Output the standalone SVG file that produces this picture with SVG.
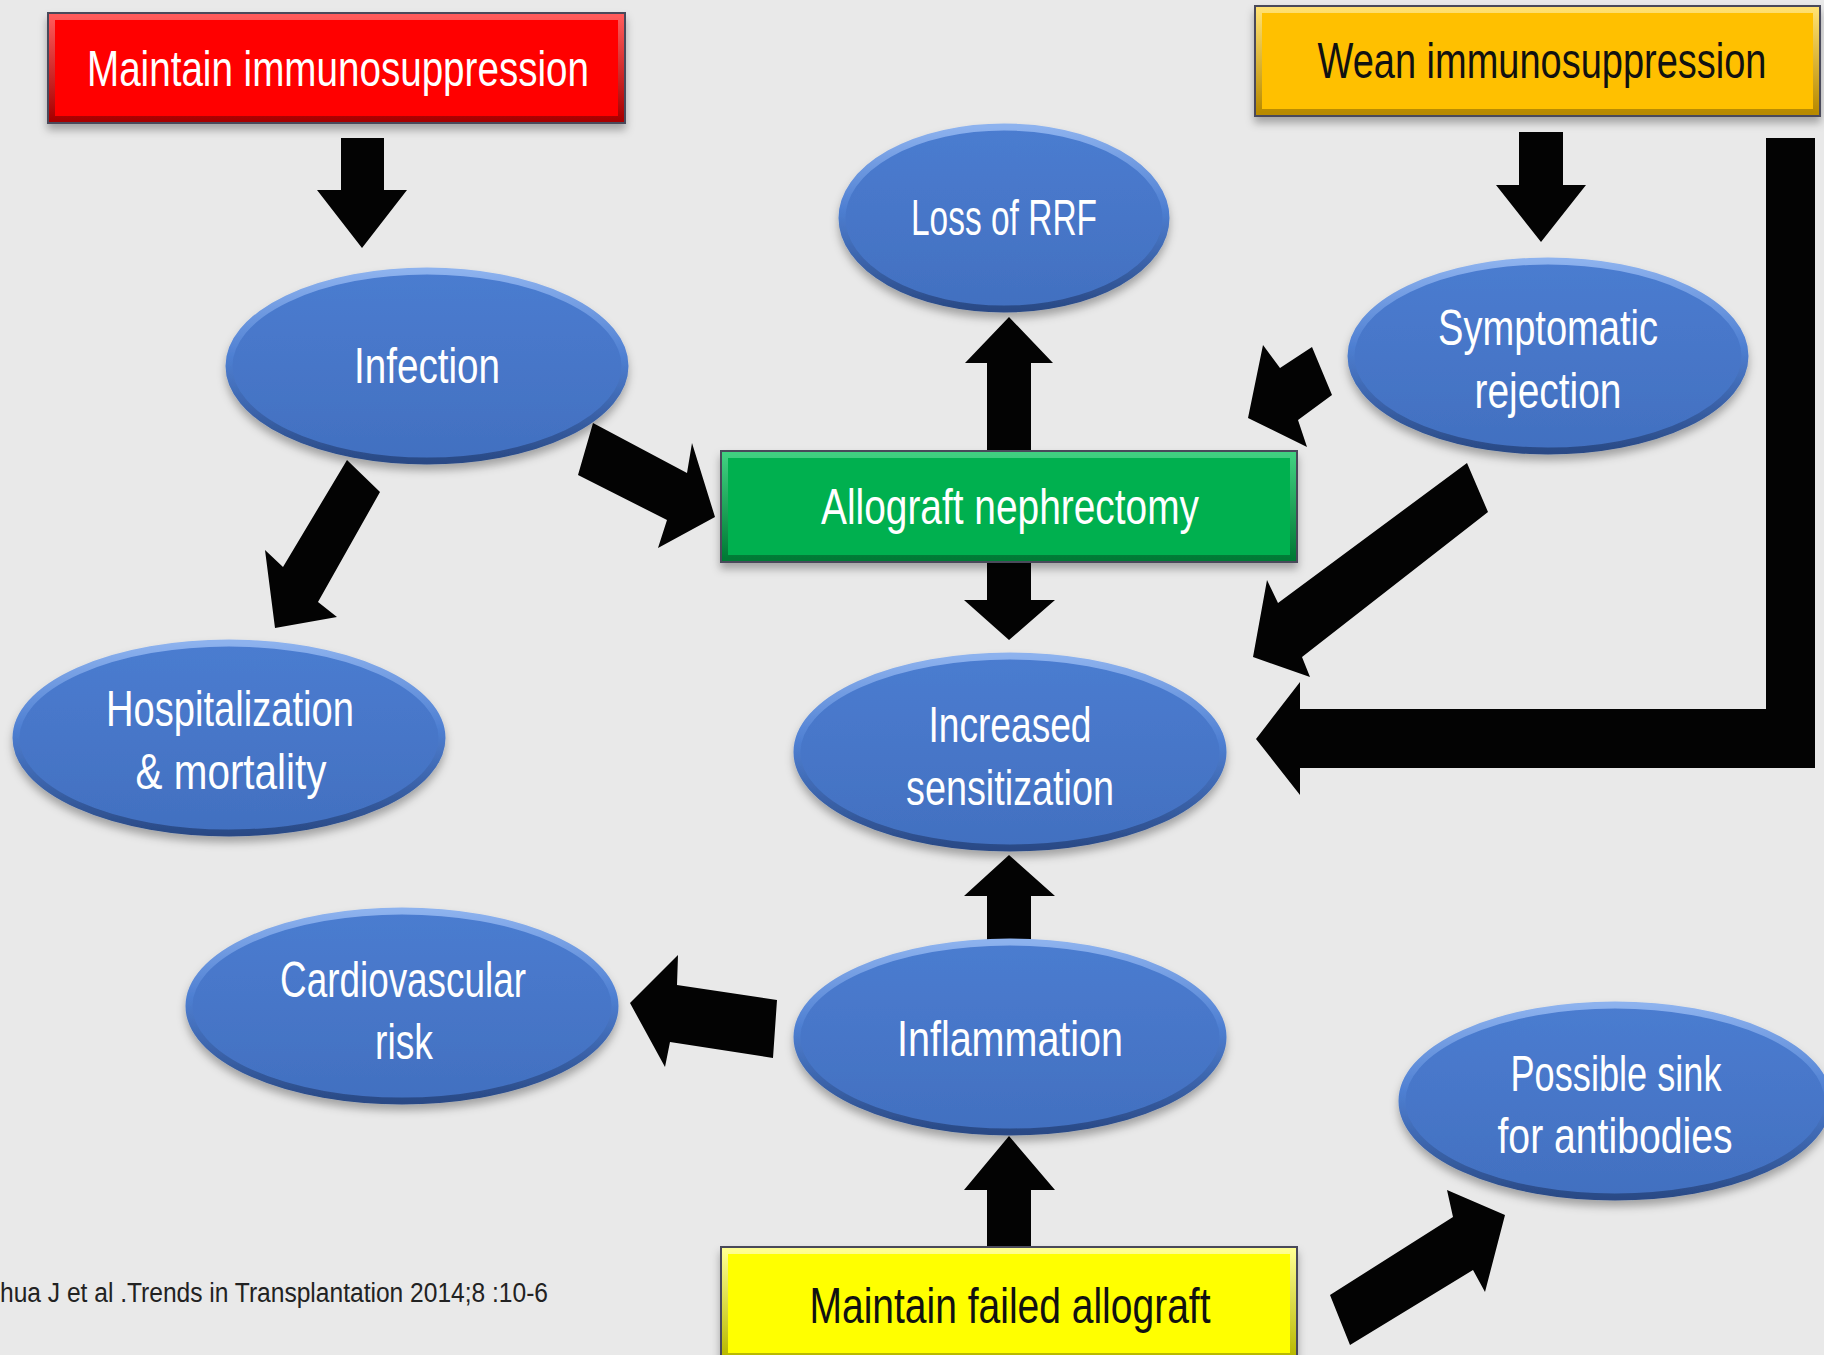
<svg xmlns="http://www.w3.org/2000/svg" width="1824" height="1355" viewBox="0 0 1824 1355">
<defs>
<linearGradient id="ellStroke" x1="0" y1="0" x2="0" y2="1">
<stop offset="0" stop-color="#8DB2EE"/>
<stop offset="0.45" stop-color="#4E7FD2"/>
<stop offset="1" stop-color="#2A4A86"/>
</linearGradient>
<linearGradient id="ellFill" x1="0" y1="0" x2="0" y2="1">
<stop offset="0" stop-color="#4B7CD0"/>
<stop offset="1" stop-color="#4270C0"/>
</linearGradient>
<linearGradient id="redBevel" x1="0" y1="0" x2="0" y2="1">
<stop offset="0" stop-color="#FF5A5A"/>
<stop offset="1" stop-color="#A80000"/>
</linearGradient>
<linearGradient id="goldBevel" x1="0" y1="0" x2="0" y2="1">
<stop offset="0" stop-color="#FFE070"/>
<stop offset="1" stop-color="#B88A00"/>
</linearGradient>
<linearGradient id="greenBevel" x1="0" y1="0" x2="0" y2="1">
<stop offset="0" stop-color="#40D080"/>
<stop offset="1" stop-color="#007A35"/>
</linearGradient>
<linearGradient id="yellowBevel" x1="0" y1="0" x2="0" y2="1">
<stop offset="0" stop-color="#FFFF90"/>
<stop offset="1" stop-color="#B8B800"/>
</linearGradient>
<filter id="shadow" x="-10%" y="-10%" width="120%" height="130%">
<feDropShadow dx="0" dy="6" stdDeviation="4" flood-color="#000" flood-opacity="0.3"/>
</filter>
</defs>
<style>
.ell{fill:url(#ellFill);stroke:url(#ellStroke);stroke-width:7;filter:url(#shadow)}
.box{stroke:#4A4A5A;stroke-width:2;filter:url(#shadow)}
.bevel{fill:none;stroke-width:6}
.t{font-family:"Liberation Sans",Arial,sans-serif;font-size:50px;text-anchor:middle;fill:#FFFFFF}
.dark{fill:#111111}
.cite{font-family:"Liberation Sans",Arial,sans-serif;font-size:27px;fill:#222222}
.arr{fill:#030303}
</style>
<rect width="1824" height="1355" fill="#E9E9E9"/>

<g id="connectors">
<polygon class="arr" points="341,138 384,138 384,190 407,190 362,248 317,190 341,190"/>
<polygon class="arr" points="1519,132 1563,132 1563,185 1586,185 1541,242 1496,185 1519,185"/>
<polygon class="arr" points="987,450 1031,450 1031,363 1053,363 1009,317 965,363 987,363"/>
<polygon class="arr" points="987,562 1031,562 1031,600 1055,600 1009,640 964,600 987,600"/>
<polygon class="arr" points="987,942 1031,942 1031,896 1055,896 1009,855 964,896 987,896"/>
<polygon class="arr" points="987,1248 1031,1248 1031,1190 1055,1190 1009,1136 964,1190 987,1190"/>
<polygon class="arr" points="777,1000 773,1058 670,1042 665,1067 630,1003 678,955 677,985"/>
<polygon class="arr" points="593,423 687,473 692,443 715,517 658,548 667,520 578,475"/>
<polygon class="arr" points="347,460 380,492 318,602 337,617 275,628 265,550 283,567"/>
<polygon class="arr" points="1312,347 1332,395 1298,420 1307,447 1248,418 1263,345 1280,368"/>
<polygon class="arr" points="1467,463 1488,512 1302,657 1310,677 1253,657 1267,580 1278,603"/>
<polygon class="arr" points="1766,138 1815,138 1815,768 1300,768 1300,795 1256,739 1300,682 1300,709 1766,709"/>
<polygon class="arr" points="1330,1295 1453,1217 1447,1190 1505,1215 1485,1292 1473,1270 1350,1345"/>
</g>

<g id="maintain-immuno">
<rect class="box" x="48" y="13" width="577" height="110" fill="#FF0000"/>
<rect class="bevel" x="52" y="17" width="569" height="102" stroke="url(#redBevel)"/>
<text class="t" x="338" y="86" textLength="502" lengthAdjust="spacingAndGlyphs">Maintain immunosuppression</text>
</g>

<g id="wean-immuno">
<rect class="box" x="1255" y="6" width="565" height="110" fill="#FFC000"/>
<rect class="bevel" x="1259" y="10" width="557" height="102" stroke="url(#goldBevel)"/>
<text class="t dark" x="1542" y="78" font-size="42" textLength="449" lengthAdjust="spacingAndGlyphs">Wean immunosuppression</text>
</g>

<g id="loss-rrf">
<ellipse class="ell" cx="1004" cy="218" rx="162" ry="91"/>
<text class="t" x="1004" y="235" textLength="186" lengthAdjust="spacingAndGlyphs">Loss of RRF</text>
</g>

<g id="infection">
<ellipse class="ell" cx="427" cy="366" rx="198" ry="95"/>
<text class="t" x="427" y="383" textLength="146" lengthAdjust="spacingAndGlyphs">Infection</text>
</g>

<g id="symptomatic-rejection">
<ellipse class="ell" cx="1548" cy="356" rx="197" ry="95"/>
<text class="t" x="1548" y="345" textLength="220" lengthAdjust="spacingAndGlyphs">Symptomatic</text>
<text class="t" x="1548" y="408" textLength="147" lengthAdjust="spacingAndGlyphs">rejection</text>
</g>

<g id="allograft-nephrectomy">
<rect class="box" x="721" y="451" width="576" height="111" fill="#00B050"/>
<rect class="bevel" x="725" y="455" width="568" height="103" stroke="url(#greenBevel)"/>
<text class="t" x="1010" y="524" textLength="378" lengthAdjust="spacingAndGlyphs">Allograft nephrectomy</text>
</g>

<g id="hospitalization">
<ellipse class="ell" cx="229" cy="738" rx="213" ry="95"/>
<text class="t" x="230" y="726" textLength="248" lengthAdjust="spacingAndGlyphs">Hospitalization</text>
<text class="t" x="231" y="789" textLength="191" lengthAdjust="spacingAndGlyphs">&amp; mortality</text>
</g>

<g id="increased-sensitization">
<ellipse class="ell" cx="1010" cy="752" rx="213" ry="96"/>
<text class="t" x="1010" y="742" textLength="163" lengthAdjust="spacingAndGlyphs">Increased</text>
<text class="t" x="1010" y="805" textLength="208" lengthAdjust="spacingAndGlyphs">sensitization</text>
</g>

<g id="cardiovascular-risk">
<ellipse class="ell" cx="402" cy="1006" rx="213" ry="95"/>
<text class="t" x="403" y="997" textLength="246" lengthAdjust="spacingAndGlyphs">Cardiovascular</text>
<text class="t" x="404" y="1059" textLength="58" lengthAdjust="spacingAndGlyphs">risk</text>
</g>

<g id="inflammation">
<ellipse class="ell" cx="1010" cy="1037" rx="213" ry="95"/>
<text class="t" x="1010" y="1056" textLength="226" lengthAdjust="spacingAndGlyphs">Inflammation</text>
</g>

<g id="possible-sink">
<ellipse class="ell" cx="1615" cy="1101" rx="213" ry="96"/>
<text class="t" x="1616" y="1091" textLength="211" lengthAdjust="spacingAndGlyphs">Possible sink</text>
<text class="t" x="1615" y="1153" textLength="235" lengthAdjust="spacingAndGlyphs">for antibodies</text>
</g>

<g id="maintain-failed">
<rect class="box" x="721" y="1247" width="576" height="113" fill="#FFFF00"/>
<rect class="bevel" x="725" y="1251" width="568" height="105" stroke="url(#yellowBevel)"/>
<text class="t dark" x="1010" y="1323" textLength="401" lengthAdjust="spacingAndGlyphs">Maintain failed allograft</text>
</g>

<g id="citation">
<text class="cite" x="0" y="1302" textLength="548" lengthAdjust="spacingAndGlyphs">hua J et al .Trends in Transplantation 2014;8 :10-6</text>
</g>
</svg>
